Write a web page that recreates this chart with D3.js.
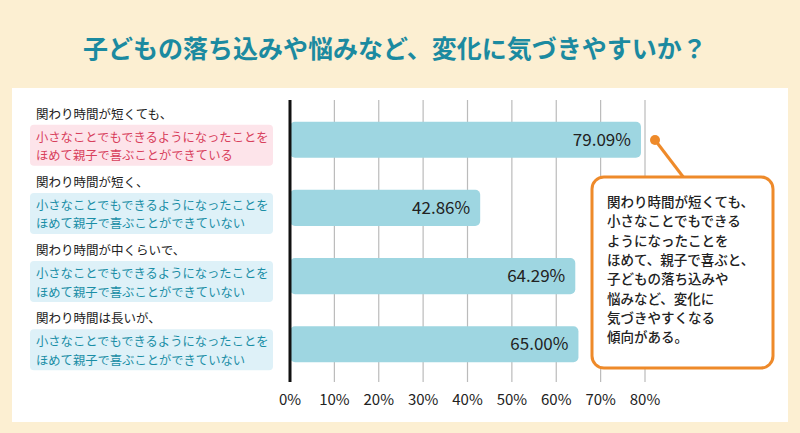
<!DOCTYPE html><html><head><meta charset="utf-8"><script src="https://cdn.jsdelivr.net/npm/d3@7"></script>
<style>body{margin:0;background:#fff}svg{font-family:"Noto Sans CJK JP",sans-serif}</style></head><body><svg id="c" width="800" height="433"></svg>
<script>
const categories=["関わり時間が短くても、","関わり時間が短く、","関わり時間が中くらいで、","関わり時間は長いが、"];
const subLines=[["小さなことでもできるようになったことを","ほめて親子で喜ぶことができている"],["小さなことでもできるようになったことを","ほめて親子で喜ぶことができていない"],["小さなことでもできるようになったことを","ほめて親子で喜ぶことができていない"],["小さなことでもできるようになったことを","ほめて親子で喜ぶことができていない"]];
const values=[79.09,42.86,64.29,65.00];
const ticks=[0,10,20,30,40,50,60,70,80];
const title="子どもの落ち込みや悩みなど、変化に気づきやすいか？";
const note=["関わり時間が短くても、","小さなことでもできる","ようになったことを","ほめて、親子で喜ぶと、","子どもの落ち込みや","悩みなど、変化に","気づきやすくなる","傾向がある。"];
const svg=d3.select("#c");
svg.append("rect").attr("width",800).attr("height",433).attr("fill","#fcefd2");
svg.append("text").attr("x",395).attr("y",58).attr("text-anchor","middle").attr("font-size",25).attr("font-weight",700).attr("fill","#1b8aa0").text(title);
svg.append("rect").attr("x",12).attr("y",88).attr("width",776).attr("height",334).attr("fill","#fff");
const x=d3.scaleLinear().domain([0,80]).range([290,645]);
const y=d3.scaleBand().domain(d3.range(4)).range([106,378]).paddingInner(0.47).paddingOuter(0.23);
svg.append("g").selectAll("line").data(ticks.slice(1)).join("line").attr("x1",d=>x(d)).attr("x2",d=>x(d)).attr("y1",100).attr("y2",382).attr("stroke","#bbb").attr("stroke-width",1.2);
svg.append("g").selectAll("rect").data(values).join("rect").attr("x",x(0)).attr("y",(d,i)=>y(i)).attr("width",d=>x(d)-x(0)).attr("height",y.bandwidth()).attr("rx",5).attr("fill","#9ed6e1");
svg.append("g").selectAll("text").data(values).join("text").attr("x",d=>x(d)-10).attr("y",(d,i)=>y(i)+y.bandwidth()/2+6).attr("text-anchor","end").attr("font-size",17).attr("fill","#222").text(d=>d.toFixed(2)+"%");
svg.append("line").attr("x1",x(0)).attr("x2",x(0)).attr("y1",100).attr("y2",382).attr("stroke","#111").attr("stroke-width",3);
svg.append("g").selectAll("text").data(ticks).join("text").attr("x",d=>x(d)).attr("y",405).attr("text-anchor","middle").attr("font-size",15).attr("fill","#222").text(d=>d+"%");
categories.forEach((c,i)=>{
  const cy=y(i)+y.bandwidth()/2;const pink=i===0;
  svg.append("text").attr("x",36).attr("y",cy-21).attr("font-size",12.5).attr("fill","#222").text(c);
  svg.append("rect").attr("x",30).attr("y",cy-15).attr("width",243).attr("height",41).attr("rx",4).attr("fill",pink?"#fde4ea":"#def1f8");
  subLines[i].forEach((s,j)=>svg.append("text").attr("x",36).attr("y",cy+2+j*18.5).attr("font-size",12.3).attr("fill",pink?"#d8405c":"#1a8ea6").text(s));
});
svg.append("path").attr("d","M655,140 L684,178").attr("stroke","#ee8a2a").attr("stroke-width",3);
svg.append("circle").attr("cx",655).attr("cy",140).attr("r",5).attr("fill","#ee8a2a");
svg.append("rect").attr("x",592).attr("y",177).attr("width",181).attr("height",191).attr("rx",12).attr("fill","#fff").attr("stroke","#ee8a2a").attr("stroke-width",3);
note.forEach((t,i)=>svg.append("text").attr("x",607).attr("y",207+i*19.3).attr("font-size",13.5).attr("font-weight",500).attr("fill","#222").text(t));
</script></body></html>
